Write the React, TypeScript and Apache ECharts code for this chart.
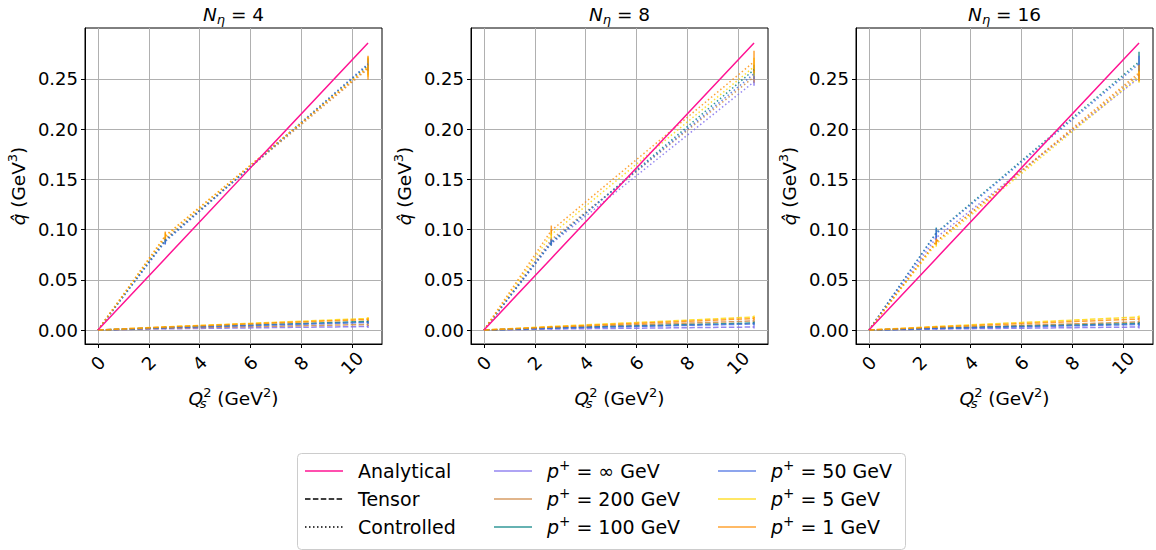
import React, { useEffect, useRef } from "react";
import * as echarts from "echarts";

const X_POINTS = [0, 2.65, 10.63];
const ANALYTICAL = [0, 0.0713, 0.2857];
const N_ETA = ["4", "8", "16"];
const P_LABELS = ["∞", "200", "100", "50", "5", "1"];
const P_COLORS = ["#7B68EE", "#CD853F", "#008080", "#4169E1", "#FFD700", "#FF8C00"];

// controlled (dotted) values per panel, per momentum, at X_POINTS
const CTRL_N4 = [
  [0, 0.090, 0.263],
  [0, 0.091, 0.260],
  [0, 0.089, 0.264],
  [0, 0.088, 0.265],
  [0, 0.093, 0.262],
  [0, 0.094, 0.261],
];
const CTRL_N8 = [
  [0, 0.086, 0.247],
  [0, 0.090, 0.252],
  [0, 0.087, 0.259],
  [0, 0.088, 0.255],
  [0, 0.095, 0.262],
  [0, 0.099, 0.267],
];
const CTRL_N16 = [
  [0, 0.092, 0.251],
  [0, 0.088, 0.254],
  [0, 0.097, 0.267],
  [0, 0.096, 0.265],
  [0, 0.086, 0.252],
  [0, 0.088, 0.256],
];
const CTRL_ERR_N4 = [
  [0, 0.002, 0.005],
  [0, 0.002, 0.006],
  [0, 0.003, 0.006],
  [0, 0.003, 0.006],
  [0, 0.004, 0.010],
  [0, 0.004, 0.012],
];
const CTRL_ERR_N8 = [
  [0, 0.002, 0.004],
  [0, 0.003, 0.006],
  [0, 0.003, 0.005],
  [0, 0.003, 0.005],
  [0, 0.004, 0.009],
  [0, 0.005, 0.011],
];
const CTRL_ERR_N16 = [
  [0, 0.002, 0.004],
  [0, 0.003, 0.006],
  [0, 0.005, 0.010],
  [0, 0.005, 0.008],
  [0, 0.003, 0.006],
  [0, 0.003, 0.008],
];
// tensor (dashed) values
const TENS_N4 = [
  [0, 0.0012, 0.0035],
  [0, 0.0018, 0.0055],
  [0, 0.0025, 0.0085],
  [0, 0.0022, 0.0075],
  [0, 0.0032, 0.0115],
  [0, 0.0030, 0.0105],
];
const TENS_N8 = [
  [0, 0.0010, 0.0030],
  [0, 0.0025, 0.0090],
  [0, 0.0020, 0.0070],
  [0, 0.0018, 0.0060],
  [0, 0.0035, 0.0130],
  [0, 0.0030, 0.0115],
];
const TENS_N16 = [
  [0, 0.0010, 0.0030],
  [0, 0.0022, 0.0080],
  [0, 0.0018, 0.0065],
  [0, 0.0015, 0.0055],
  [0, 0.0035, 0.0130],
  [0, 0.0030, 0.0110],
];
const TENS_ERR = [0, 0.0006, 0.0015];

const X_TICKS = [0, 2, 4, 6, 8, 10];
const Y_TICKS = [0, 0.05, 0.1, 0.15, 0.2, 0.25];

const CTRL = [CTRL_N4, CTRL_N8, CTRL_N16];
const CTRL_ERR = [CTRL_ERR_N4, CTRL_ERR_N8, CTRL_ERR_N16];
const TENS = [TENS_N4, TENS_N8, TENS_N16];

const FONT = "DejaVu Sans";
const PANEL_LEFT = [85, 471, 856];
const PANEL_W = 297;
const PANEL_TOP = 28;
const PANEL_H = 316;

const richBase = {
  i: { fontFamily: FONT, fontStyle: "italic", fontSize: 18.5, color: "#000" },
  n: { fontFamily: FONT, fontSize: 18.5, color: "#000" },
  sup: { fontFamily: FONT, fontSize: 13, color: "#000", padding: [0, 0, 12, 0] },
  sub: { fontFamily: FONT, fontSize: 13, color: "#000", padding: [10, 0, 0, 0] },
  isub: { fontFamily: FONT, fontStyle: "italic", fontSize: 13, color: "#000", padding: [10, 0, 0, 0] },
  isub0: { fontFamily: FONT, fontStyle: "italic", fontSize: 13, color: "#000", padding: [10, 0, 0, 0], width: 0 },
};

const legRich = {
  i: { fontFamily: FONT, fontStyle: "italic", fontSize: 19, color: "#000" },
  n: { fontFamily: FONT, fontSize: 19, color: "#000" },
  sup: { fontFamily: FONT, fontSize: 13.5, color: "#000", padding: [0, 0, 12, 0] },
};

function zip(xs: number[], ys: number[]) {
  return xs.map((x, k) => [x, ys[k]]);
}

export default function App() {
  const ref = useRef<HTMLDivElement>(null);
  useEffect(() => {
    if (!ref.current) return;
    const chart = echarts.init(ref.current, null, { renderer: "svg" });

    const grids: any[] = [];
    const xAxes: any[] = [];
    const yAxes: any[] = [];
    const series: any[] = [];
    const graphics: any[] = [];

    for (let p = 0; p < 3; p++) {
      grids.push({
        left: PANEL_LEFT[p],
        top: PANEL_TOP,
        width: PANEL_W,
        height: PANEL_H,
        show: true,
        borderColor: "#000",
        borderWidth: 1,
        backgroundColor: "transparent",
      });
      xAxes.push({
        type: "value",
        gridIndex: p,
        min: -0.51,
        max: 11.18,
        axisLine: { show: true, onZero: false, lineStyle: { color: "#000", width: 1 } },
        axisTick: { show: true, length: 4, customValues: X_TICKS, lineStyle: { color: "#000" } },
        axisLabel: {
          customValues: X_TICKS,
          rotate: 45,
          align: "center",
          verticalAlign: "middle",
          margin: 19,
          fontFamily: FONT,
          fontSize: 18,
          color: "#000",
        },
        splitLine: { show: true, lineStyle: { color: "#b0b0b0", width: 1 } },
        name: "{i|Q}{isub0|s}{sup|2}{n| (GeV}{sup|2}{n|)}",
        nameLocation: "middle",
        nameGap: 42,
        nameTextStyle: { rich: richBase },
      });
      yAxes.push({
        type: "value",
        gridIndex: p,
        min: -0.0139,
        max: 0.3006,
        axisLine: { show: true, onZero: false, lineStyle: { color: "#000", width: 1 } },
        axisTick: { show: true, length: 4, customValues: Y_TICKS, lineStyle: { color: "#000" } },
        axisLabel: {
          customValues: Y_TICKS,
          margin: 7,
          fontFamily: FONT,
          fontSize: 18,
          color: "#000",
          formatter: (v: number) => v.toFixed(2),
        },
        splitLine: { show: true, lineStyle: { color: "#b0b0b0", width: 1 } },
        name: "{i|q̂}{n| (GeV}{sup|3}{n|)}",
        nameLocation: "middle",
        nameGap: 54,
        nameTextStyle: { rich: richBase },
      });

      series.push({
        type: "line",
        xAxisIndex: p,
        yAxisIndex: p,
        data: zip(X_POINTS, ANALYTICAL),
        symbol: "none",
        lineStyle: { color: "#FF1493", width: 1.5 },
        z: 3,
      });

      for (let m = 0; m < P_LABELS.length; m++) {
        const color = P_COLORS[m];
        series.push({
          type: "line",
          xAxisIndex: p,
          yAxisIndex: p,
          data: zip(X_POINTS, TENS[p][m]),
          symbol: "none",
          lineStyle: { color, width: 1.5, type: [5.5, 2.4], opacity: 0.8 },
          z: 2,
        });
        series.push({
          type: "line",
          xAxisIndex: p,
          yAxisIndex: p,
          data: zip(X_POINTS, CTRL[p][m]),
          symbol: "none",
          lineStyle: { color, width: 1.5, type: [1.5, 2.5], opacity: 0.8 },
          z: 2,
        });
        const errData: number[][] = [];
        X_POINTS.forEach((x, k) => {
          errData.push([x, CTRL[p][m][k], CTRL_ERR[p][m][k]]);
          errData.push([x, TENS[p][m][k], TENS_ERR[k]]);
        });
        series.push({
          type: "custom",
          xAxisIndex: p,
          yAxisIndex: p,
          data: errData,
          encode: { x: 0, y: 1 },
          z: 2,
          renderItem: (params: any, api: any) => {
            const x = api.value(0);
            const y = api.value(1);
            const e = api.value(2);
            if (!e) return null;
            const a = api.coord([x, y - e]);
            const b = api.coord([x, y + e]);
            return {
              type: "line",
              shape: { x1: a[0], y1: a[1], x2: b[0], y2: b[1] },
              style: { stroke: color, lineWidth: 1.5, opacity: 0.8 },
            };
          },
        });
      }

      graphics.push({
        type: "text",
        x: PANEL_LEFT[p] + PANEL_W / 2,
        y: 14,
        style: {
          text: "{i|N}{isub|η}{n| = " + N_ETA[p] + "}",
          align: "center",
          verticalAlign: "middle",
          rich: richBase,
        },
      });
    }

    // legend
    const LX = 297, LY = 453, LW = 608, LH = 96;
    graphics.push({
      type: "rect",
      shape: { x: LX + 0.5, y: LY + 0.5, width: LW, height: LH, r: 4 },
      style: { fill: "rgba(255,255,255,0.8)", stroke: "#cccccc", lineWidth: 1 },
    });
    const rows = [471, 499, 527];
    const cols = [
      { x1: 305, x2: 343, tx: 358 },
      { x1: 494, x2: 532, tx: 547 },
      { x1: 718, x2: 756, tx: 771 },
    ];
    const col1 = [
      { label: "{n|Analytical}", color: "#FF1493", dash: null as any },
      { label: "{n|Tensor}", color: "#000", dash: [5.5, 2.4] },
      { label: "{n|Controlled}", color: "#000", dash: [1.5, 2.5] },
    ];
    col1.forEach((it, r) => {
      graphics.push({
        type: "line",
        shape: { x1: cols[0].x1, y1: rows[r], x2: cols[0].x2, y2: rows[r] },
        style: { stroke: it.color, lineWidth: 1.5, lineDash: it.dash || undefined },
      });
      graphics.push({
        type: "text",
        x: cols[0].tx,
        y: rows[r],
        style: { text: it.label, verticalAlign: "middle", align: "left", rich: legRich },
      });
    });
    P_LABELS.forEach((lab, m) => {
      const c = cols[1 + Math.floor(m / 3)];
      const r = m % 3;
      graphics.push({
        type: "line",
        shape: { x1: c.x1, y1: rows[r], x2: c.x2, y2: rows[r] },
        style: { stroke: P_COLORS[m], lineWidth: 1.5, opacity: 0.8 },
      });
      graphics.push({
        type: "text",
        x: c.tx,
        y: rows[r],
        style: {
          text: "{i|p}{sup|+}{n| = " + lab + " GeV}",
          verticalAlign: "middle",
          align: "left",
          rich: legRich,
        },
      });
    });

    chart.setOption({
      animation: false,
      backgroundColor: "#fff",
      textStyle: { fontFamily: FONT },
      grid: grids,
      xAxis: xAxes,
      yAxis: yAxes,
      series,
      graphic: graphics,
    });
    return () => chart.dispose();
  }, []);
  return (
    <div
      ref={ref}
      style={{ position: "absolute", left: 0, top: 0, width: 1156, height: 550 }}
    />
  );
}
